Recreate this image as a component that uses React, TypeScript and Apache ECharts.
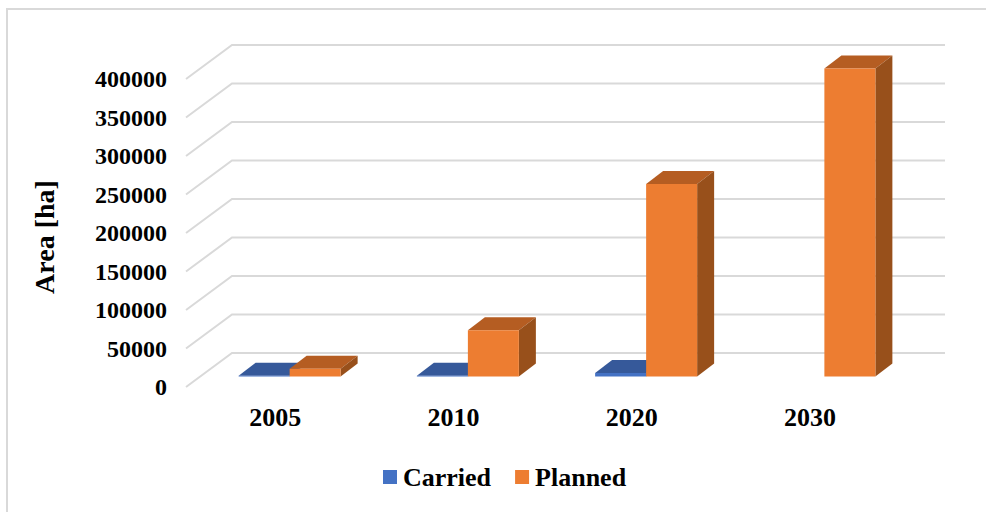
import React, { useEffect, useRef } from "react";
import * as echarts from "echarts";

const categories = ["2005", "2010", "2020", "2030"];
const carried = [1000, 1000, 4500, 0];
const planned = [10000, 60000, 250000, 400000];
const yTicks = [0, 50000, 100000, 150000, 200000, 250000, 300000, 350000, 400000];

const FONT = '"Liberation Serif", "Times New Roman", serif';
const WALL_DX = 46;
const WALL_DY = -34;
const BAR_SHIFT_X = 14.5;
const BAR_SHIFT_Y = -10.5;
const BAR_W = 51;
const BAR_DX = 17;
const BAR_DY = -13;

const barRender = (side: number, front: string, top: string, right: string) => (params: any, api: any) => {
  const value = api.value(1);
  if (!value) return { type: "group", children: [] };
  const base = api.coord([api.value(0), 0]);
  const head = api.coord([api.value(0), value]);
  const x0 = base[0] + BAR_SHIFT_X + (side < 0 ? -BAR_W : 0);
  const x1 = x0 + BAR_W;
  const yb = base[1] + BAR_SHIFT_Y;
  const yt = head[1] + BAR_SHIFT_Y;
  return {
    type: "group",
    children: [
      {
        type: "polygon",
        shape: { points: [[x0, yt], [x0 + BAR_DX, yt + BAR_DY], [x1 + BAR_DX, yt + BAR_DY], [x1, yt]] },
        style: { fill: top },
      },
      {
        type: "polygon",
        shape: { points: [[x1, yb], [x1 + BAR_DX, yb + BAR_DY], [x1 + BAR_DX, yt + BAR_DY], [x1, yt]] },
        style: { fill: right },
      },
      { type: "rect", shape: { x: x0, y: yt, width: BAR_W, height: yb - yt }, style: { fill: front } },
    ],
  };
};

const wallRender = (params: any, api: any) => {
  const cs = params.coordSys;
  const y = api.coord([0, api.value(1)])[1];
  const left = cs.x;
  const right = cs.x + cs.width;
  return {
    type: "polyline",
    shape: { points: [[left, y], [left + WALL_DX, y + WALL_DY], [right + WALL_DX, y + WALL_DY]] },
    style: { fill: "none", stroke: "#d9d9d9", lineWidth: 2 },
  };
};

export default function App() {
  const ref = useRef<HTMLDivElement>(null);
  useEffect(() => {
    const chart = echarts.init(ref.current!, null, { renderer: "svg" });
    chart.setOption({
      animation: false,
      backgroundColor: "#ffffff",
      grid: { left: 186, right: 87, top: 79, bottom: 125, containLabel: false },
      xAxis: {
        type: "category",
        data: categories,
        axisLine: { show: false },
        axisTick: { show: false },
        axisLabel: { color: "#000", fontFamily: FONT, fontWeight: "bold", fontSize: 26, margin: 17 },
      },
      yAxis: {
        type: "value",
        min: 0,
        max: 400000,
        interval: 50000,
        name: "Area [ha]",
        nameLocation: "middle",
        nameGap: 128,
        nameTextStyle: { color: "#000", fontFamily: FONT, fontWeight: "bold", fontSize: 28, padding: [0, 8, 0, 0] },
        splitLine: { show: false },
        axisLine: { show: false },
        axisTick: { show: false },
        axisLabel: {
          color: "#000",
          fontFamily: FONT,
          fontWeight: "bold",
          fontSize: 24,
          margin: 19,
          formatter: (v: number) => String(v),
        },
      },
      legend: {
        data: ["Carried", "Planned"],
        left: 378,
        top: 459,
        icon: "rect",
        itemWidth: 14,
        itemHeight: 14,
        itemGap: 24,
        textStyle: { color: "#000", fontFamily: FONT, fontWeight: "bold", fontSize: 26, padding: [0, 0, 0, 1] },
      },
      graphic: [
        {
          type: "polyline",
          silent: true,
          shape: { points: [[7, 512], [7, 9], [986, 9]] },
          style: { fill: "none", stroke: "#d9d9d9", lineWidth: 2 },
        },
      ],
      series: [
        {
          type: "custom",
          name: "Walls",
          silent: true,
          z: 1,
          clip: false,
          data: yTicks.map((v) => [0, v]),
          renderItem: wallRender,
        },
        {
          type: "custom",
          name: "Carried",
          z: 2,
          clip: false,
          itemStyle: { color: "#4472c4" },
          data: carried.map((v, i) => [i, v]),
          renderItem: barRender(-1, "#4472c4", "#36599a", "#2f4f88"),
        },
        {
          type: "custom",
          name: "Planned",
          z: 3,
          clip: false,
          itemStyle: { color: "#ed7d31" },
          data: planned.map((v, i) => [i, v]),
          renderItem: barRender(1, "#ed7d31", "#b55d22", "#98501b"),
        },
      ],
    });
    return () => chart.dispose();
  }, []);
  return <div ref={ref} style={{ position: "absolute", left: 0, top: 0, width: 986, height: 512 }} />;
}
